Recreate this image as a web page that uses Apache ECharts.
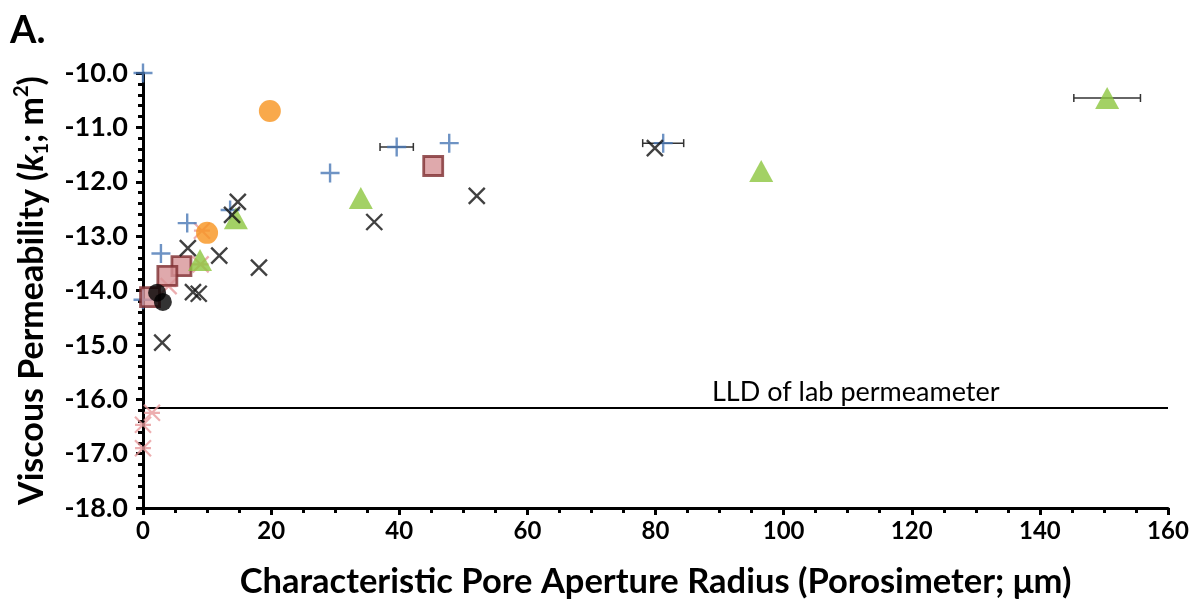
<!DOCTYPE html>
<html>
<head>
<meta charset="utf-8">
<script src="https://cdn.jsdelivr.net/npm/echarts@6/dist/echarts.min.js"></script>
<style>
  html, body { margin: 0; padding: 0; background: #fff; }
  #chart { width: 1201px; height: 605px; }
</style>
</head>
<body>
<div id="chart"></div>
<script>
// Viscous permeability (log10 k1, m^2) vs. characteristic pore aperture radius (um)
const xTicks = [0, 20, 40, 60, 80, 100, 120, 140, 160];
const yTicks = [-18, -17, -16, -15, -14, -13, -12, -11, -10];

// [radius, log k1]
const plusPts = [[0, -10.0], [0, -14.17], [2.8, -13.32], [6.9, -12.76], [13.6, -12.52],
                 [29.2, -11.84], [39.6, -11.36], [47.8, -11.29], [81.2, -11.29]];
const orangePts = [[19.8, -10.70], [10.0, -12.94]];
const squarePts = [[45.3, -11.71], [6.0, -13.55], [3.8, -13.73], [1.1, -14.12]];
const trianglePts = [[150.5, -10.46], [96.5, -11.80], [34.0, -12.30], [14.5, -12.67], [8.9, -13.44]];
const crossPts = [[79.9, -11.38], [52.1, -12.26], [36.1, -12.74], [14.8, -12.37], [13.9, -12.61],
                  [7.0, -13.22], [11.9, -13.36], [18.1, -13.58], [7.8, -14.03], [8.7, -14.06],
                  [3.0, -14.96]];
const blackDotPts = [[2.2, -14.04], [3.1, -14.21]];
const starPts = [[1.4, -16.25], [0, -16.47], [0, -16.90], [4.0, -13.92], [9.0, -13.52], [9.2, -12.90]];

// horizontal error bars: [x, y, half-width]
const xErrors = [[39.6, -11.36, 2.6], [81.2, -11.29, 3.2], [150.5, -10.46, 5.2]];

// lower detection limit of the laboratory permeameter
const lldValue = -16.16;
const lldLabel = 'LLD of lab permeameter';

const FONT = 'Lato, "Open Sans", sans-serif';

const chart = echarts.init(document.getElementById('chart'), null, { renderer: 'canvas' });

const strokeStyle = (c, w) => ({ color: 'rgba(0,0,0,0)', borderColor: c, borderWidth: w });

chart.setOption({
  animation: false,
  backgroundColor: '#ffffff',
  grid: { left: 143, right: 33, top: 73, bottom: 97, containLabel: false, outerBoundsMode: 'none' },
  xAxis: {
    type: 'value', min: 0, max: 160, interval: 20,
    axisLine: { show: true, lineStyle: { color: '#000', width: 3 } },
    axisTick: { show: true, length: 7, lineStyle: { color: '#000', width: 3 } },
    minorTick: { show: true, splitNumber: 4, length: 5, lineStyle: { color: '#000', width: 3 } },
    splitLine: { show: false },
    axisLabel: { color: '#000', fontFamily: FONT, fontWeight: 'bold', fontSize: 24, margin: 11,
                 formatter: v => String(v) },
    name: 'Characteristic Pore Aperture Radius (Porosimeter; \u03bcm)',
    nameLocation: 'middle', nameGap: 56,
    nameTextStyle: { color: '#000', fontFamily: FONT, fontWeight: 'bold', fontSize: 34.5 }
  },
  yAxis: {
    type: 'value', min: -18, max: -10, interval: 1,
    axisLine: { show: true, onZero: false, lineStyle: { color: '#000', width: 3 } },
    axisTick: { show: true, length: 7, lineStyle: { color: '#000', width: 3 } },
    minorTick: { show: true, splitNumber: 5, length: 5, lineStyle: { color: '#000', width: 3 } },
    splitLine: { show: false },
    axisLabel: { color: '#000', fontFamily: FONT, fontWeight: 'bold', fontSize: 27, margin: 15,
                 formatter: v => v.toFixed(1) },
    name: '{b|Viscous Permeability (}{i|k}{s|1}{b|; m}{p|2}{b|)}',
    nameLocation: 'middle', nameGap: 91, nameRotate: 90,
    nameTextStyle: {
      color: '#000', fontFamily: FONT, fontWeight: 'bold', fontSize: 34,
      rich: {
        b: { fontFamily: FONT, fontWeight: 'bold', fontSize: 34, color: '#000', lineHeight: 40 },
        i: { fontFamily: FONT, fontWeight: 'bold', fontStyle: 'italic', fontSize: 34, color: '#000', lineHeight: 40 },
        s: { fontFamily: FONT, fontWeight: 'bold', fontSize: 20, color: '#000', verticalAlign: 'bottom', lineHeight: 25 },
        p: { fontFamily: FONT, fontWeight: 'bold', fontSize: 20, color: '#000', verticalAlign: 'top', lineHeight: 25 }
      }
    }
  },
  series: [
    {
      name: 'LLD', type: 'line', data: [[0, lldValue], [160, lldValue]],
      symbol: 'none', lineStyle: { color: '#000', width: 2 }, z: 1, silent: true
    },
    {
      name: 'xerr', type: 'custom', z: 2,
      renderItem: (params, api) => {
        const y = api.value(1), e = api.value(2), x = api.value(0);
        const p0 = api.coord([x - e, y]);
        const p1 = api.coord([x + e, y]);
        const cap = 4;
        const st = { stroke: '#333', lineWidth: 1.5 };
        return {
          type: 'group',
          children: [
            { type: 'line', shape: { x1: p0[0], y1: p0[1], x2: p1[0], y2: p1[1] }, style: st },
            { type: 'line', shape: { x1: p0[0], y1: p0[1] - cap, x2: p0[0], y2: p0[1] + cap }, style: st },
            { type: 'line', shape: { x1: p1[0], y1: p1[1] - cap, x2: p1[0], y2: p1[1] + cap }, style: st }
          ]
        };
      },
      data: xErrors
    },
    {
      name: 'asterisk', type: 'scatter', z: 3, data: starPts,
      symbol: 'path://M0,0 L10,10 M10,0 L0,10 M0,5 L10,5', symbolSize: 16,
      itemStyle: strokeStyle('#e99a9c', 2.2)
    },
    {
      name: 'plus', type: 'scatter', z: 4, data: plusPts,
      symbol: 'path://M5,0 L5,10 M0,5 L10,5', symbolSize: 19,
      itemStyle: strokeStyle('#4a78b5', 2.4)
    },
    {
      name: 'square', type: 'scatter', z: 5, data: squarePts,
      symbol: 'rect', symbolSize: 19,
      itemStyle: { color: '#d79497', borderColor: '#7e2e31', borderWidth: 2.8 }
    },
    {
      name: 'triangle', type: 'scatter', z: 6, data: trianglePts,
      symbol: 'triangle', symbolSize: [24, 22],
      itemStyle: { color: '#8cc63e' }
    },
    {
      name: 'orange', type: 'scatter', z: 7, data: orangePts,
      symbol: 'circle', symbolSize: 22,
      itemStyle: { color: '#f7941e' }
    },
    {
      name: 'blackdot', type: 'scatter', z: 8, data: blackDotPts,
      symbol: 'circle', symbolSize: 18,
      itemStyle: { color: '#000' }
    },
    {
      name: 'cross', type: 'scatter', z: 9, data: crossPts,
      symbol: 'path://M0,0 L10,10 M10,0 L0,10', symbolSize: 16,
      itemStyle: strokeStyle('#111', 2.4)
    }
  ],
  graphic: [
    { type: 'text', left: 10, top: 12,
      style: { text: 'A.', fill: '#000', font: 'bold 38px ' + FONT } },
    { type: 'text', left: 712, top: 379,
      style: { text: lldLabel, fill: '#000', font: '27px ' + FONT } }
  ]
});
</script>
</body>
</html>
